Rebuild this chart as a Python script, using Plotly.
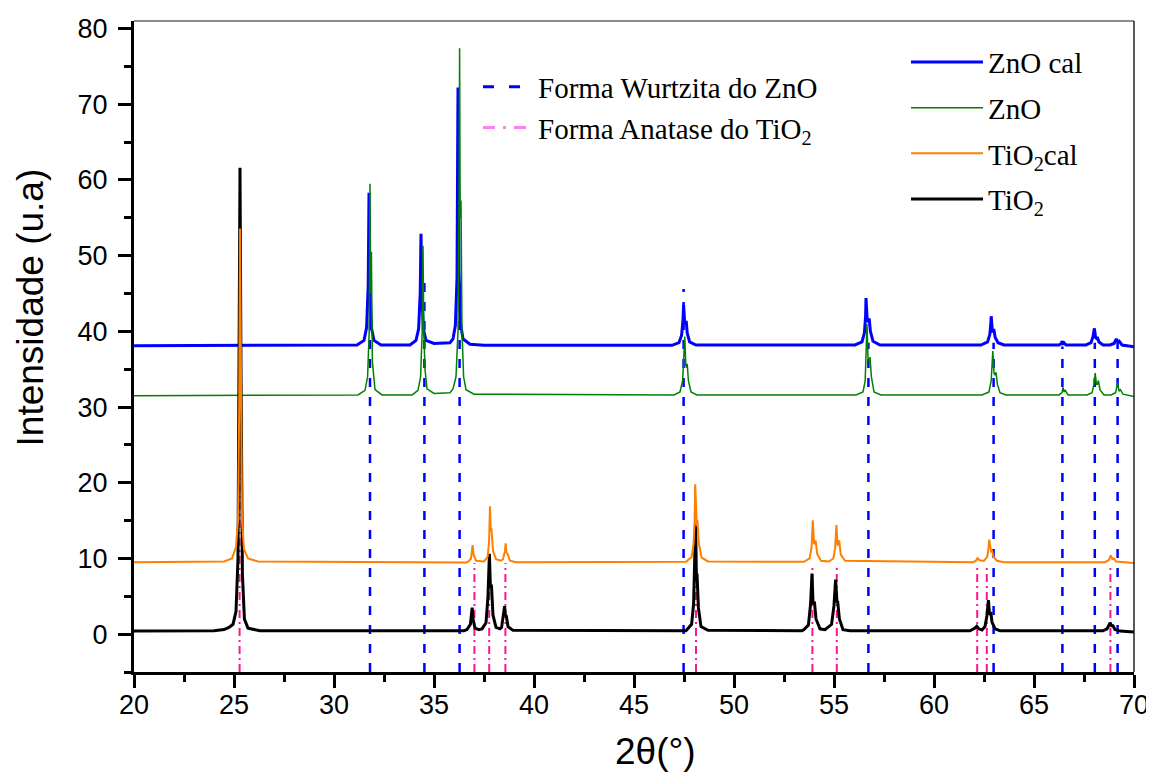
import plotly.graph_objects as go

# ---------------- data ----------------
zno_cal_x = [20.0, 31.15, 31.50, 31.63, 31.71, 31.75, 31.79, 31.87, 32.00, 32.35,
             33.80, 34.10, 34.23, 34.31, 34.35, 34.39, 34.47, 34.60, 35.00, 35.80,
             35.95, 36.07, 36.15, 36.20, 36.25, 36.33, 36.45, 36.80, 37.50,
             46.90, 47.25, 47.38, 47.45, 47.48, 47.53, 47.58, 47.61, 47.66, 47.78, 48.10,
             56.05, 56.40, 56.52, 56.58, 56.60, 56.66, 56.72, 56.76, 56.82, 56.95, 57.30,
             62.35, 62.68, 62.79, 62.84, 62.86, 62.92, 62.96, 62.99, 63.06, 63.20, 63.50,
             66.25, 66.37, 66.40, 66.45, 66.50, 66.60,
             67.60, 67.85, 67.95, 68.02, 68.08, 68.12, 68.16, 68.25, 68.45,
             68.80, 69.00, 69.12, 69.19, 69.26, 69.40, 70.0]
zno_cal_y = [38.1, 38.2, 38.8, 40.5, 46.0, 58.3, 46.0, 40.5, 38.8, 38.2,
             38.2, 38.8, 40.3, 45.0, 52.9, 45.0, 40.3, 38.8, 38.4, 38.5,
             39.0, 40.8, 47.0, 72.2, 48.0, 41.0, 39.0, 38.3, 38.15,
             38.15, 38.5, 39.5, 41.5, 43.5, 41.3, 41.0, 41.4, 39.8, 38.6, 38.2,
             38.2, 38.6, 39.8, 42.0, 44.4, 41.5, 41.3, 41.7, 40.0, 38.7, 38.2,
             38.2, 38.6, 39.6, 41.0, 42.0, 40.0, 40.0, 40.3, 39.2, 38.5, 38.2,
             38.2, 38.4, 38.7, 38.4, 38.5, 38.2,
             38.2, 38.5, 39.3, 40.4, 39.2, 39.1, 39.25, 38.6, 38.2,
             38.2, 38.4, 39.0, 38.6, 38.7, 38.2, 37.95]

zno_x = [20.0, 31.20, 31.55, 31.68, 31.76, 31.80, 31.83, 31.87, 31.92, 32.05, 32.40,
         33.90, 34.20, 34.33, 34.41, 34.45, 34.49, 34.55, 34.65, 35.00, 35.80,
         35.95, 36.10, 36.20, 36.26, 36.28, 36.31, 36.35, 36.40, 36.48, 36.60, 37.00,
         47.00, 47.30, 47.43, 47.50, 47.54, 47.59, 47.63, 47.66, 47.72, 47.85, 48.15,
         56.10, 56.45, 56.56, 56.62, 56.65, 56.70, 56.76, 56.80, 56.87, 57.00, 57.35,
         62.40, 62.75, 62.86, 62.91, 62.94, 63.00, 63.05, 63.10, 63.17, 63.30, 63.60,
         66.25, 66.40, 66.45, 66.50, 66.56, 66.70,
         67.65, 67.90, 68.00, 68.06, 68.12, 68.17, 68.22, 68.30, 68.50,
         68.85, 69.08, 69.18, 69.25, 69.32, 69.45, 70.0]
zno_y = [31.5, 31.6, 32.2, 34.0, 40.0, 59.5, 45.0, 50.5, 36.0, 32.3, 31.6,
         31.6, 32.2, 34.0, 40.0, 51.3, 40.0, 35.0, 32.4, 31.8, 31.9,
         32.4, 34.0, 40.0, 60.0, 77.4, 55.0, 57.3, 40.0, 34.0, 32.3, 31.7,
         31.6, 32.0, 33.5, 37.0, 39.3, 35.5, 35.2, 35.7, 33.5, 32.0, 31.6,
         31.6, 32.0, 33.5, 38.0, 41.0, 36.5, 36.0, 36.6, 34.0, 32.0, 31.6,
         31.6, 32.0, 33.5, 35.5, 37.4, 34.5, 34.2, 34.6, 33.0, 31.9, 31.6,
         31.6, 31.9, 32.6, 32.0, 32.2, 31.6,
         31.6, 31.9, 33.0, 34.5, 33.0, 33.0, 33.5, 32.3, 31.6,
         31.6, 31.9, 33.2, 32.1, 32.3, 31.7, 31.4]

tio2_cal_x = [20.0, 24.50, 24.90, 25.10, 25.20, 25.26, 25.30, 25.34, 25.40, 25.50, 25.70, 26.20,
              36.60, 36.70, 36.85, 36.93, 36.98, 37.10,
              37.50, 37.68, 37.75, 37.80, 37.84, 37.87, 37.95, 38.10, 38.35,
              38.45, 38.55, 38.58, 38.62, 38.68, 38.80, 39.10,
              47.60, 47.88, 47.98, 48.03, 48.06, 48.11, 48.14, 48.17, 48.24, 48.38, 48.70,
              53.50, 53.78, 53.88, 53.94, 54.00, 54.04, 54.08, 54.16, 54.35,
              54.75, 54.97, 55.06, 55.12, 55.18, 55.22, 55.26, 55.34, 55.55,
              61.95, 62.10, 62.18, 62.25, 62.40,
              62.50, 62.66, 62.72, 62.76, 62.82, 62.86, 62.90, 62.98, 63.15, 63.50,
              68.55, 68.75, 68.84, 68.92, 69.00, 69.10, 70.0]
tio2_cal_y = [9.5, 9.6, 10.0, 11.5, 15.0, 30.0, 53.6, 30.0, 15.0, 11.2, 10.0, 9.6,
              9.45, 9.55, 10.0, 11.75, 10.5, 9.7,
              9.6, 10.2, 12.0, 16.9, 13.5, 14.0, 11.0, 9.9, 9.7,
              9.9, 11.0, 12.0, 10.8, 10.6, 9.7, 9.5,
              9.55, 10.2, 12.0, 15.0, 19.8, 14.3, 14.3, 15.1, 12.0, 10.1, 9.6,
              9.55, 10.0, 11.5, 15.05, 12.0, 11.9, 12.4, 10.6, 9.7,
              9.6, 10.0, 11.5, 14.4, 11.8, 11.8, 12.4, 10.5, 9.7,
              9.5, 9.7, 10.1, 9.8, 9.7,
              9.7, 10.2, 11.2, 12.5, 10.9, 10.8, 11.1, 10.2, 9.7, 9.5,
              9.5, 9.8, 10.4, 9.9, 10.0, 9.6, 9.4]

tio2_x = [20.0, 24.00, 24.50, 24.75, 24.95, 25.10, 25.20, 25.26, 25.30, 25.35, 25.42, 25.52, 25.70, 26.30,
          36.50, 36.65, 36.82, 36.88, 36.91, 36.95, 37.05, 37.25,
          37.40, 37.60, 37.70, 37.77, 37.82, 37.85, 37.87, 37.95, 38.10, 38.30,
          38.38, 38.48, 38.53, 38.57, 38.61, 38.70, 38.95,
          47.60, 47.65, 47.88, 47.98, 48.04, 48.08, 48.12, 48.15, 48.22, 48.35, 48.70,
          53.40, 53.50, 53.72, 53.83, 53.90, 53.95, 53.98, 54.02, 54.10, 54.30,
          54.55, 54.88, 55.00, 55.08, 55.13, 55.15, 55.18, 55.27, 55.45, 55.80,
          61.80, 61.90, 62.05, 62.14, 62.25, 62.40, 62.55, 62.65, 62.72, 62.77, 62.80, 62.84, 62.90, 63.05, 63.30,
          68.45, 68.65, 68.75, 68.80, 68.88, 68.95, 69.05, 69.30, 70.0]
tio2_y = [0.4, 0.45, 0.6, 0.9, 1.3, 3.0, 10.0, 35.0, 61.6, 35.0, 8.0, 2.0, 0.8, 0.45,
          0.45, 0.6, 1.3, 2.8, 3.5, 2.0, 0.8, 0.6,
          0.7, 1.5, 5.0, 10.6, 6.2, 6.3, 6.55, 2.5, 0.9, 0.7,
          0.9, 2.5, 3.7, 2.4, 2.5, 1.0, 0.5,
          0.45, 0.6, 1.3, 4.0, 10.0, 14.6, 7.5, 8.0, 3.5, 1.0, 0.5,
          0.45, 0.6, 1.2, 4.0, 8.0, 4.2, 4.0, 4.3, 2.0, 0.7,
          0.6, 1.3, 3.8, 7.2, 4.3, 4.2, 4.4, 2.0, 0.6, 0.45,
          0.45, 0.55, 0.8, 1.05, 0.7, 0.55, 1.0, 2.5, 4.5, 2.8, 2.7, 2.9, 1.6, 0.7, 0.45,
          0.45, 0.7, 1.2, 1.5, 1.1, 1.1, 0.6, 0.4, 0.3]

# reference stick positions (2-theta) and the height each marker line reaches
wurtzita_pos = [31.80, 34.52, 36.28, 47.48, 56.72, 62.98, 66.42, 68.04, 69.18]
wurtzita_top = [47.4, 47.4, 47.4, 45.6, 38.5, 38.5, 38.0, 38.5, 38.5]
anatase_pos = [25.28, 37.02, 37.76, 38.57, 48.10, 53.92, 55.14, 62.16, 62.64, 68.82]
anatase_top = [24.3, 9.4, 9.4, 9.4, 13.5, 9.2, 9.2, 9.2, 9.2, 9.2]
y_floor = -5

x_ticks = [20, 25, 30, 35, 40, 45, 50, 55, 60, 65, 70]
y_ticks = [0, 10, 20, 30, 40, 50, 60, 70, 80]

# ---------------- figure ----------------
def sticks(pos, top):
    xs, ys = [], []
    for p, t in zip(pos, top):
        xs += [p, p, None]
        ys += [y_floor, t, None]
    return xs, ys

fig = go.Figure()

wx, wy = sticks(wurtzita_pos, wurtzita_top)
ax_, ay_ = sticks(anatase_pos, anatase_top)
fig.add_trace(go.Scatter(x=wx, y=wy, mode="lines", showlegend=False, hoverinfo="skip",
                         line=dict(color="#0000ff", width=2.5, dash="9px,10px")))
fig.add_trace(go.Scatter(x=ax_, y=ay_, mode="lines", showlegend=False, hoverinfo="skip",
                         line=dict(color="#ff1493", width=2, dash="8px,4px,2px,4px")))

fig.add_trace(go.Scatter(x=zno_cal_x, y=zno_cal_y, mode="lines", name="ZnO cal",
                         line=dict(color="#0000ff", width=3), legend="legend",
                         legendrank=1, legendgroup="a"))
fig.add_trace(go.Scatter(x=zno_x, y=zno_y, mode="lines", name="ZnO",
                         line=dict(color="#008000", width=1.5), legend="legend",
                         legendrank=2, legendgroup="b"))
fig.add_trace(go.Scatter(x=tio2_x, y=tio2_y, mode="lines", name="TiO<sub>2</sub>",
                         line=dict(color="#000000", width=3), legend="legend",
                         legendrank=4, legendgroup="d"))
fig.add_trace(go.Scatter(x=tio2_cal_x, y=tio2_cal_y, mode="lines", name="TiO<sub>2</sub>cal",
                         line=dict(color="#ff8000", width=2), legend="legend",
                         legendrank=3, legendgroup="c"))

# legend entries for the marker lines
fig.add_trace(go.Scatter(x=[None], y=[None], mode="lines", name="Forma Wurtzita do ZnO",
                         line=dict(color="#0000ff", width=3, dash="11px,15px"), legend="legend2"))
fig.add_trace(go.Scatter(x=[None], y=[None], mode="lines", name="Forma Anatase do TiO<sub>2</sub>",
                         line=dict(color="#ff80f0", width=3, dash="12px,8px,3px,8px"), legend="legend2"))

serif = "Liberation Serif, Times New Roman, serif"
sans = "Liberation Sans, Arial, sans-serif"

# the page body adds an 8px offset, so the figure is 8px smaller and shifted margins
fig.update_layout(
    width=1146, height=766,
    margin=dict(l=126, r=20, t=13, b=102, autoexpand=False),
    paper_bgcolor="white", plot_bgcolor="white",
    font=dict(family=sans, color="black"),
    xaxis=dict(range=[20, 70], tickvals=x_ticks, ticks="outside", ticklen=13, tickwidth=2.5,
               tickcolor="black", showline=True, linecolor="black", linewidth=3,
               showgrid=False, zeroline=False, tickfont=dict(size=27, family=sans),
               ticklabelstandoff=-6, automargin=False,
               minor=dict(dtick=2.5, ticks="outside", ticklen=7, tickwidth=2.5, tickcolor="black")),
    yaxis=dict(range=[-5, 81], tickvals=y_ticks, ticks="outside", ticklen=13, tickwidth=2.5,
               tickcolor="black", showline=True, linecolor="black", linewidth=3,
               showgrid=False, zeroline=False, tickfont=dict(size=27, family=sans),
               ticklabelstandoff=5, automargin=False,
               minor=dict(dtick=5, tick0=0, ticks="outside", ticklen=7, tickwidth=2.5, tickcolor="black")),
    legend=dict(x=0.772, y=0.976, xanchor="left", yanchor="top", bgcolor="rgba(0,0,0,0)",
                font=dict(family=serif, size=29), itemwidth=72, tracegroupgap=5,
                traceorder="grouped"),
    legend2=dict(x=0.344, y=0.938, xanchor="left", yanchor="top", bgcolor="rgba(0,0,0,0)",
                 font=dict(family=serif, size=29), itemwidth=50, tracegroupgap=0),
    shapes=[
        dict(type="line", xref="paper", yref="paper", x0=0, x1=1, y0=1, y1=1,
             line=dict(color="#666666", width=1.5)),
        dict(type="line", xref="paper", yref="paper", x0=1, x1=1, y0=0, y1=1,
             line=dict(color="#222222", width=1.5)),
    ],
    annotations=[
        dict(text="2θ(°)", xref="paper", yref="paper", x=0.521, y=-0.122,
             xanchor="center", yanchor="middle", showarrow=False,
             font=dict(size=37, family=sans)),
        dict(text="Intensidade (u.a)", xref="paper", yref="paper", x=-0.104, y=0.56,
             xanchor="center", yanchor="middle", showarrow=False, textangle=-90,
             font=dict(size=37, family=sans)),
    ],
)

fig.write_html("out.html")
